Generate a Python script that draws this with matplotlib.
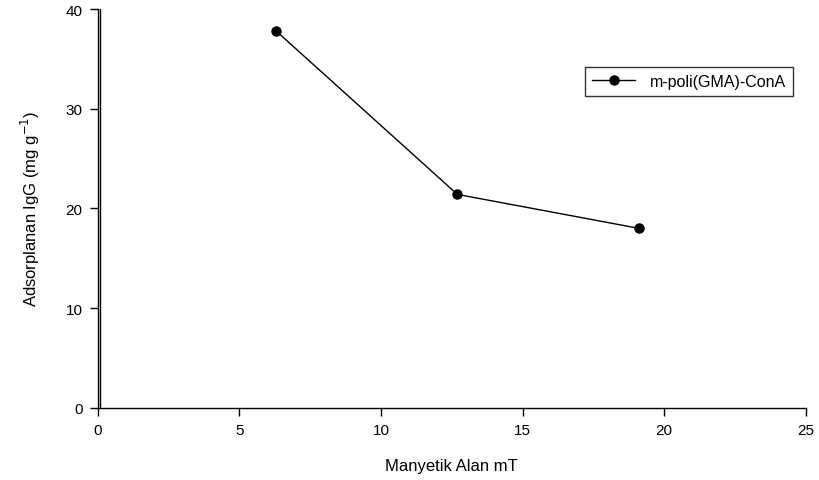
import matplotlib
matplotlib.use("Agg")
import matplotlib.pyplot as plt

plt.rcParams['font.family'] = ['Liberation Sans', 'DejaVu Sans']

# data
field_mT = [6.3, 12.7, 19.1]
adsorption = [37.8, 21.4, 18.0]
xticks = [0, 5, 10, 15, 20, 25]
yticks = [0, 10, 20, 30, 40]

fig = plt.figure(figsize=(8.2, 4.81), dpi=100)
ax = fig.add_axes([0.1191, 0.1503, 0.8635, 0.8289])

ax.plot(field_mT, adsorption, 'k-', lw=1, marker='o', markersize=6.5,
        label='m-poli(GMA)-ConA')

# the reference has a doubled left axis line
ax.axvline(0.1, color='k', lw=1)

ax.set_xlim(0, 25)
ax.set_ylim(0, 40)
ax.set_xticks(xticks)
ax.set_yticks(yticks)
ax.spines['top'].set_visible(False)
ax.spines['right'].set_visible(False)
ax.spines['left'].set_linewidth(1)
ax.spines['bottom'].set_linewidth(1)
ax.tick_params(direction='out', length=6, width=1, labelsize=11, pad=5)

ax.set_xlabel('Manyetik Alan mT', fontsize=12, labelpad=15)
ax.set_ylabel('Adsorplanan IgG (mg g$^{-1}$)', fontsize=12, labelpad=17)

leg = ax.legend(loc='upper right', bbox_to_anchor=(0.982, 0.855), fontsize=11.5,
                frameon=True, fancybox=False, edgecolor='k', handlelength=2.7,
                handletextpad=0.9, borderpad=0.45, borderaxespad=0)
leg.get_frame().set_linewidth(1)

fig.savefig('out.png', dpi=100)
